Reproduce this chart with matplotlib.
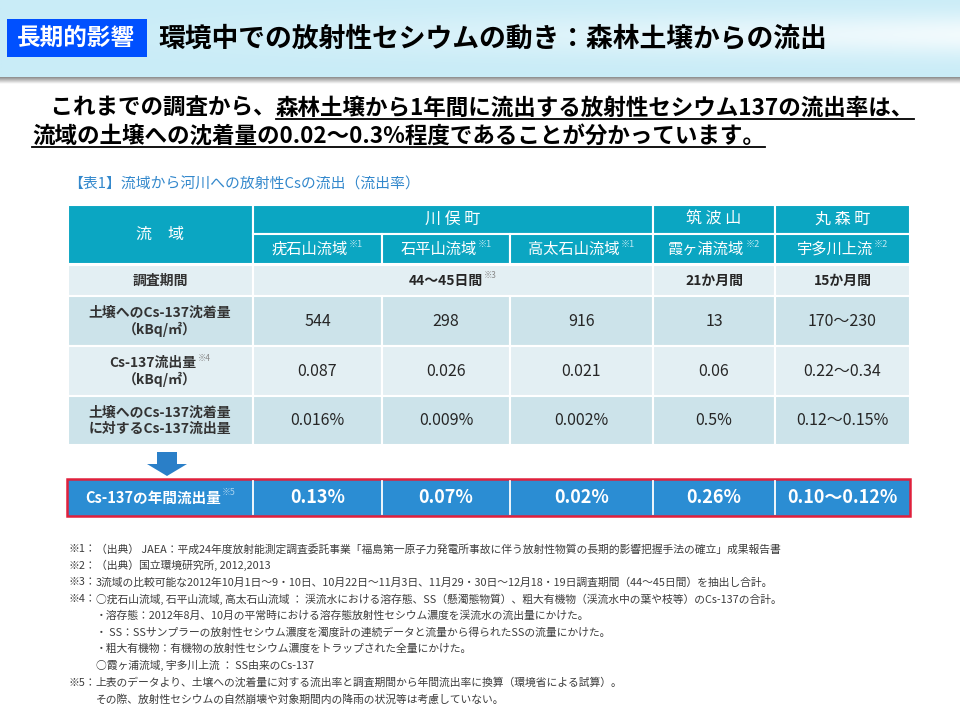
import numpy as np
import matplotlib
matplotlib.use("Agg")
import matplotlib.pyplot as plt
from matplotlib.patches import Rectangle, FancyArrow
from matplotlib.colors import to_rgb

plt.rcParams['font.family'] = ['Noto Sans CJK JP', 'DejaVu Sans']

# ---- slide texts ----
tag = "長期的影響"
title = "環境中での放射性セシウムの動き：森林土壌からの流出"
lead_plain = "　これまでの調査から、"
lead_under1 = "森林土壌から1年間に流出する放射性セシウム137の流出率は、"
lead_under2 = "流域の土壌への沈着量の0.02〜0.3%程度であることが分かっています。"
caption = "【表1】流域から河川への放射性Csの流出（流出率）"

# ---- table data ----
areas = ["川 俣 町", "筑 波 山", "丸 森 町"]
area_span = [3, 1, 1]
basins = ["疣石山流域", "石平山流域", "高太石山流域", "霞ヶ浦流域", "宇多川上流"]
basin_notes = ["※1", "※1", "※1", "※2", "※2"]
periods = ["44〜45日間", "21か月間", "15か月間"]
period_notes = ["※3", "", ""]
period_span = [3, 1, 1]
deposition = ["544", "298", "916", "13", "170〜230"]
outflow = ["0.087", "0.026", "0.021", "0.06", "0.22〜0.34"]
outflow_ratio = ["0.016%", "0.009%", "0.002%", "0.5%", "0.12〜0.15%"]
annual_rate = ["0.13%", "0.07%", "0.02%", "0.26%", "0.10〜0.12%"]

row_labels = [["調査期間"],
              ["土壌へのCs-137沈着量", "（kBq/㎡）"],
              ["Cs-137流出量", "（kBq/㎡）"],
              ["土壌へのCs-137沈着量", "に対するCs-137流出量"]]
row_label_notes = ["", "", "※4", ""]
annual_label = "Cs-137の年間流出量"
annual_note = "※5"

footnotes = [
    ("※1：", "（出典） JAEA：平成24年度放射能測定調査委託事業「福島第一原子力発電所事故に伴う放射性物質の長期的影響把握手法の確立」成果報告書"),
    ("※2：", "（出典）国立環境研究所, 2012,2013"),
    ("※3：", "3流域の比較可能な2012年10月1日〜9・10日、10月22日〜11月3日、11月29・30日〜12月18・19日調査期間（44〜45日間）を抽出し合計。"),
    ("※4：", "○疣石山流域, 石平山流域, 高太石山流域 ： 渓流水における溶存態、SS（懸濁態物質）、粗大有機物（渓流水中の葉や枝等）のCs-137の合計。"),
    ("", "・溶存態：2012年8月、10月の平常時における溶存態放射性セシウム濃度を渓流水の流出量にかけた。"),
    ("", "・ SS：SSサンプラーの放射性セシウム濃度を濁度計の連続データと流量から得られたSSの流量にかけた。"),
    ("", "・粗大有機物：有機物の放射性セシウム濃度をトラップされた全量にかけた。"),
    ("", "○霞ヶ浦流域, 宇多川上流 ： SS由来のCs-137"),
    ("※5：", "上表のデータより、土壌への沈着量に対する流出率と調査期間から年間流出率に換算（環境省による試算）。"),
    ("", "その際、放射性セシウムの自然崩壊や対象期間内の降雨の状況等は考慮していない。"),
]

# ---- layout (pixels) ----
col_edges = [68, 253, 382, 510, 653, 775, 910]
head_rows = [205, 234, 264]
data_rows = [265, 296, 346, 396, 445]
bar_top, bar_bot = 479, 516

teal = "#0ba6c2"
row_colors = ["#e3eff3", "#cce3ea", "#e3eff3", "#cce3ea"]
dark = "#262626"

fig = plt.figure(figsize=(9.6, 7.2), dpi=100)
ax = fig.add_axes([0, 0, 1, 1])
r = fig.canvas.get_renderer()


def width(t):
    return t.get_window_extent(renderer=r).width


def fit(t, target):
    t.set_fontsize(t.get_fontsize() * target / width(t))


def noted(x, y, s, note, size, color, weight="normal", note_color=None):
    # text centred at x, with a small superscript note after it
    t = ax.text(x, y, s, ha="left", va="center", fontsize=size, color=color, weight=weight)
    w1 = width(t)
    w2 = 0
    if note:
        n = ax.text(x, y - size * 0.5, note, ha="left", va="center", fontsize=size * 0.6,
                    color=note_color or color)
        w2 = width(n) + 1
    left = x - (w1 + w2) / 2
    t.set_x(left)
    if note:
        n.set_x(left + w1 + 1)


def cell(x0, x1, y0, y1, color):
    ax.add_patch(Rectangle((x0, y0), x1 - x0, y1 - y0, facecolor=color,
                           edgecolor="white", lw=1.5, zorder=1))


# ---- header band ----
yy = np.linspace(0, 1, 80)[:, None]
xx = np.linspace(0, 1, 200)[None, :]
base = np.array(to_rgb("#c9ecf7"))
hl = 0.75 * np.exp(-((yy - 0.45) / 0.28) ** 2) * xx ** 1.3
band = base * (1 - hl[..., None]) + hl[..., None]
ax.imshow(band, extent=[0, 960, 77, 0], aspect="auto", zorder=0)
shade = np.linspace(0, 1, 20)[:, None, None] * np.ones((1, 2, 1))
shade = 0.55 + 0.45 * shade * np.ones((1, 1, 3))
ax.imshow(shade, extent=[0, 960, 84, 77], aspect="auto", zorder=0)

ax.add_patch(Rectangle((7, 19), 140, 38, facecolor="#0050ff", edgecolor="none", zorder=1))
t = ax.text(17, 38, tag, ha="left", va="center", color="white", weight="bold", fontsize=17, zorder=2)
fit(t, 118)
t = ax.text(158, 38, title, ha="left", va="center", color="black", weight="bold", fontsize=19, zorder=2)
fit(t, 670)

# ---- lead text with underlines ----
t2 = ax.text(32, 136, lead_under2, ha="left", va="center", weight="bold", fontsize=16, color="black")
fit(t2, 736)
fs = t2.get_fontsize()
t1a = ax.text(28, 108, lead_plain, ha="left", va="center", weight="bold", fontsize=fs, color="black")
x_u = 28 + width(t1a)
t1b = ax.text(x_u, 108, lead_under1, ha="left", va="center", weight="bold", fontsize=fs, color="black")
ax.plot([x_u, x_u + width(t1b)], [118.5, 118.5], color="black", lw=1.3)
ax.plot([32, 32 + width(t2)], [146.5, 146.5], color="black", lw=1.3)

# ---- caption ----
t = ax.text(68, 185, caption, ha="left", va="center", color="#3388cc", fontsize=10.5)
fit(t, 352)

# ---- table header ----
cell(col_edges[0], col_edges[1], head_rows[0], head_rows[2], teal)
ax.text((col_edges[0] + col_edges[1]) / 2, (head_rows[0] + head_rows[2]) / 2, "流　域",
        ha="center", va="center", color="white", fontsize=11.5)
c = 1
for name, span in zip(areas, area_span):
    x0, x1 = col_edges[c], col_edges[c + span]
    cell(x0, x1, head_rows[0], head_rows[1], teal)
    ax.text((x0 + x1) / 2, 219.5, name, ha="center", va="center", color="white", fontsize=11.5)
    c += span
for i, (name, note) in enumerate(zip(basins, basin_notes)):
    x0, x1 = col_edges[i + 1], col_edges[i + 2]
    cell(x0, x1, head_rows[1], head_rows[2], teal)
    noted((x0 + x1) / 2, 249.5, name, note, 11, "white", note_color="#bfe9f2")

# ---- table body ----
for k in range(4):
    y0, y1 = data_rows[k], data_rows[k + 1]
    ym = (y0 + y1) / 2
    cell(col_edges[0], col_edges[1], y0, y1, row_colors[k])
    lines = row_labels[k]
    if len(lines) == 1:
        noted(160, ym, lines[0], row_label_notes[k], 10, "#333333", weight="bold", note_color="#888888")
    else:
        noted(160, ym - 8, lines[0], row_label_notes[k], 10, "#333333", weight="bold", note_color="#888888")
        ax.text(160, ym + 8, lines[1], ha="center", va="center", fontsize=10,
                color="#333333", weight="bold")

# survey period row (merged cells)
c = 1
for p, note, span in zip(periods, period_notes, period_span):
    x0, x1 = col_edges[c], col_edges[c + span]
    cell(x0, x1, data_rows[0], data_rows[1], row_colors[0])
    noted((x0 + x1) / 2, (data_rows[0] + data_rows[1]) / 2, p, note, 10, dark,
          weight="bold", note_color="#888888")
    c += span

for k, values in enumerate([deposition, outflow, outflow_ratio], start=1):
    y0, y1 = data_rows[k], data_rows[k + 1]
    for i, v in enumerate(values):
        x0, x1 = col_edges[i + 1], col_edges[i + 2]
        cell(x0, x1, y0, y1, row_colors[k])
        ax.text((x0 + x1) / 2, (y0 + y1) / 2, v, ha="center", va="center",
                fontsize=11.5, color=dark)

# ---- arrow ----
ax.add_patch(FancyArrow(167, 452, 0, 24, width=20, head_width=40, head_length=12,
                        length_includes_head=True, color="#2a7fc8", lw=0, zorder=2))

# ---- annual rate bar ----
ax.add_patch(Rectangle((col_edges[0] - 1, bar_top), col_edges[-1] - col_edges[0] + 1,
                       bar_bot - bar_top, facecolor="#2b8dd3", edgecolor="#e0203c",
                       lw=1.8, zorder=1))
for x in col_edges[1:-1]:
    ax.plot([x, x], [bar_top + 2, bar_bot - 2], color="white", lw=1.3, zorder=2)
noted((col_edges[0] + col_edges[1]) / 2, 497.5, annual_label, annual_note, 10.5, "white",
      weight="bold", note_color="#a9d3f0")
for i, v in enumerate(annual_rate):
    x0, x1 = col_edges[i + 1], col_edges[i + 2]
    ax.text((x0 + x1) / 2, 497.5, v, ha="center", va="center", fontsize=13,
            color="white", weight="bold", zorder=3)

# ---- footnotes ----
fcol = "#3c3c3c"
t = ax.text(68, 549, footnotes[0][0] + footnotes[0][1], ha="left", va="center",
            fontsize=8, color=fcol)
fit(t, 717)
fn = t.get_fontsize()
t.remove()
probe = ax.text(68, 549, footnotes[0][0], ha="left", va="center", fontsize=fn)
indent = 68 + width(probe)
probe.remove()
for i, (pre, body) in enumerate(footnotes):
    y = 549 + i * 16.7
    if pre:
        p = ax.text(68, y, pre, ha="left", va="center", fontsize=fn, color=fcol)
        xb = 68 + width(p)
    else:
        xb = indent
    ax.text(xb, y, body, ha="left", va="center", fontsize=fn, color=fcol)

ax.set_xlim(0, 960)
ax.set_ylim(720, 0)
ax.axis("off")
fig.savefig("out.png", dpi=100, facecolor="white")
